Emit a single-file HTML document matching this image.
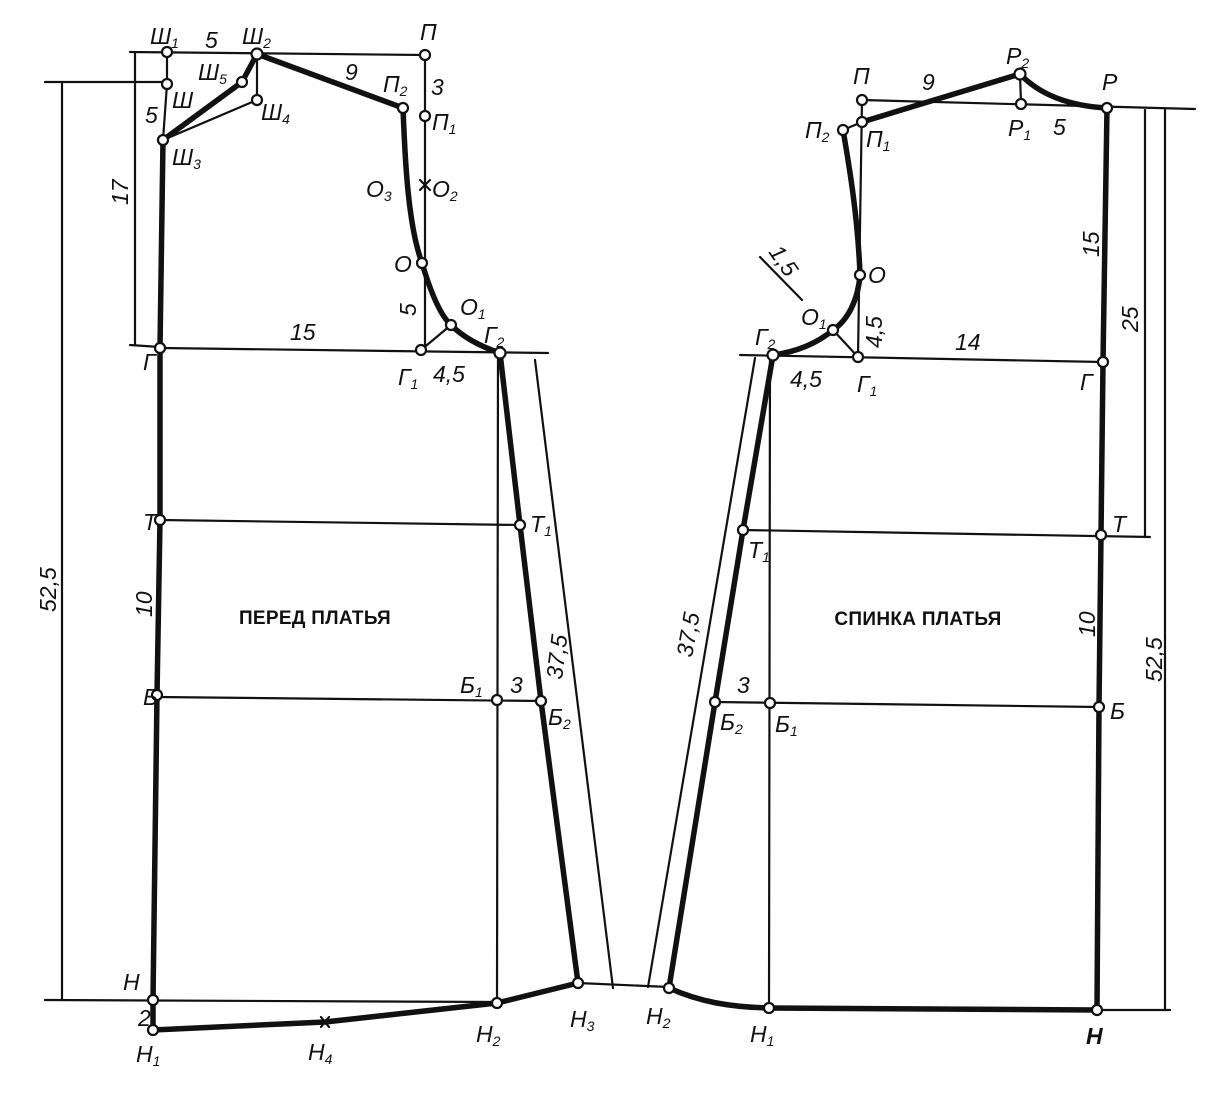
<!DOCTYPE html>
<html><head><meta charset="utf-8"><style>
html,body{margin:0;padding:0;background:#fff}
svg{display:block}
text{font-family:"Liberation Sans","DejaVu Sans",sans-serif;font-style:italic;font-size:23px;fill:#111}
.s{font-size:14px}
.t{font-style:normal;font-weight:bold;font-size:19px;letter-spacing:0.3px}
</style></head><body>
<svg width="1212" height="1100" viewBox="0 0 1212 1100" xmlns="http://www.w3.org/2000/svg">
<g stroke="#111" fill="none" stroke-linecap="round" stroke-linejoin="round">
<g stroke-width="2.2">
<line x1="45" y1="82" x2="168" y2="82"/>
<line x1="62" y1="82" x2="62" y2="1000"/>
<line x1="45" y1="1000" x2="497" y2="1002"/>
<line x1="135" y1="52" x2="135" y2="345"/>
<line x1="130" y1="52" x2="425" y2="55"/>
<line x1="130" y1="345" x2="160" y2="347"/>
<line x1="167" y1="52" x2="167" y2="84"/>
<line x1="167" y1="84" x2="163" y2="140"/>
<line x1="163" y1="140" x2="257" y2="100"/>
<line x1="257" y1="54" x2="257" y2="100"/>
<line x1="425" y1="55" x2="425" y2="350"/>
<line x1="160" y1="348" x2="548" y2="353"/>
<line x1="421" y1="350" x2="451" y2="325"/>
<line x1="160" y1="520" x2="520" y2="525"/>
<line x1="157" y1="697" x2="541" y2="701"/>
<line x1="498" y1="353" x2="497" y2="1002"/>
<line x1="535" y1="360" x2="613" y2="988"/>
<line x1="578" y1="983" x2="669" y2="987"/>
<line x1="648" y1="987" x2="755" y2="358"/>
</g>
<g stroke-width="5.5">
<polyline points="163,140 242,82 257,54 403,108"/>
<path d="M403,108 C405,160 408,225 422,263 C430,290 440,315 451,325 C466,340 485,348 500,353"/>
<polyline points="163,140 160,348 160,520 157,695 153,1000 153,1030"/>
<polyline points="500,353 520,525 541,701 578,983"/>
<polyline points="497,1003 578,983"/>
<polyline points="153,1030 325,1022 497,1003"/>
</g>
<g stroke-width="2.2">
<line x1="862" y1="100" x2="1195" y2="109"/>
<line x1="862" y1="100" x2="858" y2="357"/>
<line x1="843" y1="130" x2="862" y2="122"/>
<line x1="1020" y1="74" x2="1021" y2="104"/>
<line x1="740" y1="355" x2="1103" y2="362"/>
<line x1="858" y1="357" x2="833" y2="330"/>
<line x1="760" y1="257" x2="802" y2="300"/>
<line x1="743" y1="530" x2="1150" y2="537"/>
<line x1="715" y1="702" x2="1099" y2="707"/>
<line x1="770" y1="355" x2="769" y2="1008"/>
<line x1="1145" y1="110" x2="1145" y2="537"/>
<line x1="1165" y1="110" x2="1165" y2="1010"/>
<line x1="1097" y1="1010" x2="1170" y2="1010"/>
</g>
<g stroke-width="5.5">
<polyline points="862,122 1020,74"/>
<path d="M1020,74 C1040,95 1070,106 1107,108"/>
<path d="M843,130 C850,170 858,220 860,275 C858,300 848,320 833,330 C815,345 795,352 773,355"/>
<polyline points="1107,108 1103,362 1101,535 1099,707 1097,1010"/>
<polyline points="773,355 743,530 715,702 669,988"/>
<path d="M669,988 C700,1002 730,1007 769,1008"/>
<line x1="769" y1="1008" x2="1097" y2="1010"/>
</g>
<g fill="#fff" stroke-width="2.2">
<circle cx="167" cy="52" r="5"/><circle cx="167" cy="84" r="5"/><circle cx="163" cy="140" r="5"/>
<circle cx="242" cy="82" r="5"/><circle cx="257" cy="54" r="5.5"/><circle cx="257" cy="100" r="5"/>
<circle cx="425" cy="55" r="5"/><circle cx="403" cy="108" r="5"/><circle cx="425" cy="116" r="5"/>
<circle cx="422" cy="263" r="5"/><circle cx="451" cy="325" r="5"/><circle cx="421" cy="350" r="5"/>
<circle cx="500" cy="353" r="5.5"/><circle cx="160" cy="348" r="5"/><circle cx="160" cy="520" r="5"/>
<circle cx="520" cy="525" r="5"/><circle cx="157" cy="695" r="5"/><circle cx="497" cy="700" r="5"/>
<circle cx="541" cy="701" r="5"/><circle cx="153" cy="1000" r="5"/><circle cx="153" cy="1030" r="5"/>
<circle cx="497" cy="1003" r="5"/><circle cx="578" cy="983" r="5"/>
<circle cx="862" cy="100" r="5"/><circle cx="862" cy="122" r="5"/><circle cx="843" cy="130" r="5"/>
<circle cx="1020" cy="74" r="5.5"/><circle cx="1021" cy="104" r="5"/><circle cx="1107" cy="108" r="5"/>
<circle cx="860" cy="275" r="5"/><circle cx="833" cy="330" r="5"/><circle cx="858" cy="357" r="5"/>
<circle cx="773" cy="355" r="5.5"/><circle cx="1103" cy="362" r="5"/><circle cx="1101" cy="535" r="5"/>
<circle cx="1099" cy="707" r="5"/><circle cx="1097" cy="1010" r="5"/><circle cx="769" cy="1008" r="5"/>
<circle cx="669" cy="988" r="5"/><circle cx="770" cy="703" r="5"/><circle cx="715" cy="702" r="5"/>
<circle cx="743" cy="530" r="5"/>
</g>
<g stroke-width="2.2">
<line x1="420" y1="180" x2="430" y2="190"/><line x1="430" y1="180" x2="420" y2="190"/>
<line x1="321" y1="1017" x2="329" y2="1027"/><line x1="329" y1="1017" x2="321" y2="1027"/>
</g>
</g>
<text x="150" y="44">Ш<tspan class="s" dy="4">1</tspan></text>
<text x="205" y="48">5</text>
<text x="242" y="44">Ш<tspan class="s" dy="4">2</tspan></text>
<text x="172" y="108">Ш</text>
<text x="198" y="80">Ш<tspan class="s" dy="4">5</tspan></text>
<text x="261" y="120">Ш<tspan class="s" dy="4">4</tspan></text>
<text x="172" y="165">Ш<tspan class="s" dy="4">3</tspan></text>
<text x="145" y="123">5</text>
<text x="420" y="40">П</text>
<text x="345" y="80">9</text>
<text x="383" y="92">П<tspan class="s" dy="4">2</tspan></text>
<text x="431" y="95">3</text>
<text x="432" y="130">П<tspan class="s" dy="4">1</tspan></text>
<text x="366" y="197">О<tspan class="s" dy="4">3</tspan></text>
<text x="432" y="197">О<tspan class="s" dy="4">2</tspan></text>
<text x="394" y="272">О</text>
<text x="460" y="315">О<tspan class="s" dy="4">1</tspan></text>
<text x="0" y="0" transform="translate(416 316) rotate(-90)">5</text>
<text x="484" y="343">Г<tspan class="s" dy="4">2</tspan></text>
<text x="398" y="385">Г<tspan class="s" dy="4">1</tspan></text>
<text x="433" y="382">4,5</text>
<text x="290" y="340">15</text>
<text x="143" y="370">Г</text>
<text x="143" y="530">Т</text>
<text x="530" y="532">Т<tspan class="s" dy="4">1</tspan></text>
<text x="143" y="705">Б</text>
<text x="460" y="693">Б<tspan class="s" dy="4">1</tspan></text>
<text x="510" y="693">3</text>
<text x="548" y="725">Б<tspan class="s" dy="4">2</tspan></text>
<text x="123" y="990">Н</text>
<text x="138" y="1026">2</text>
<text x="136" y="1062">Н<tspan class="s" dy="4">1</tspan></text>
<text x="308" y="1060">Н<tspan class="s" dy="4">4</tspan></text>
<text x="476" y="1042">Н<tspan class="s" dy="4">2</tspan></text>
<text x="570" y="1027">Н<tspan class="s" dy="4">3</tspan></text>
<text x="0" y="0" transform="translate(128 205) rotate(-90)">17</text>
<text x="0" y="0" transform="translate(56 612) rotate(-90)">52,5</text>
<text x="0" y="0" transform="translate(152 617) rotate(-90)">10</text>
<text x="0" y="0" transform="translate(562 680) rotate(-83)">37,5</text>
<text class="t" x="315" y="624" text-anchor="middle">ПЕРЕД ПЛАТЬЯ</text>
<text x="853" y="84">П</text>
<text x="922" y="90">9</text>
<text x="1006" y="64">Р<tspan class="s" dy="4">2</tspan></text>
<text x="1102" y="90">Р</text>
<text x="1008" y="136">Р<tspan class="s" dy="4">1</tspan></text>
<text x="1053" y="135">5</text>
<text x="805" y="138">П<tspan class="s" dy="4">2</tspan></text>
<text x="866" y="147">П<tspan class="s" dy="4">1</tspan></text>
<text x="868" y="283">О</text>
<text x="801" y="325">О<tspan class="s" dy="4">1</tspan></text>
<text x="755" y="345">Г<tspan class="s" dy="4">2</tspan></text>
<text x="790" y="387">4,5</text>
<text x="857" y="392">Г<tspan class="s" dy="4">1</tspan></text>
<text x="955" y="350">14</text>
<text x="1080" y="390">Г</text>
<text x="1112" y="532">Т</text>
<text x="748" y="558">Т<tspan class="s" dy="4">1</tspan></text>
<text x="1110" y="719">Б</text>
<text x="775" y="732">Б<tspan class="s" dy="4">1</tspan></text>
<text x="720" y="730">Б<tspan class="s" dy="4">2</tspan></text>
<text x="737" y="693">3</text>
<text x="646" y="1024">Н<tspan class="s" dy="4">2</tspan></text>
<text x="750" y="1042">Н<tspan class="s" dy="4">1</tspan></text>
<text x="1086" y="1044" style="font-weight:bold">Н</text>
<text x="0" y="0" transform="translate(768 252) rotate(55)">1,5</text>
<text x="0" y="0" transform="translate(882 348) rotate(-90)">4,5</text>
<text x="0" y="0" transform="translate(1099 257) rotate(-90)">15</text>
<text x="0" y="0" transform="translate(1138 332) rotate(-90)">25</text>
<text x="0" y="0" transform="translate(1095 637) rotate(-90)">10</text>
<text x="0" y="0" transform="translate(1162 682) rotate(-90)">52,5</text>
<text x="0" y="0" transform="translate(692 658) rotate(-80)">37,5</text>
<text class="t" x="918" y="625" text-anchor="middle">СПИНКА ПЛАТЬЯ</text>
</svg>
</body></html>
